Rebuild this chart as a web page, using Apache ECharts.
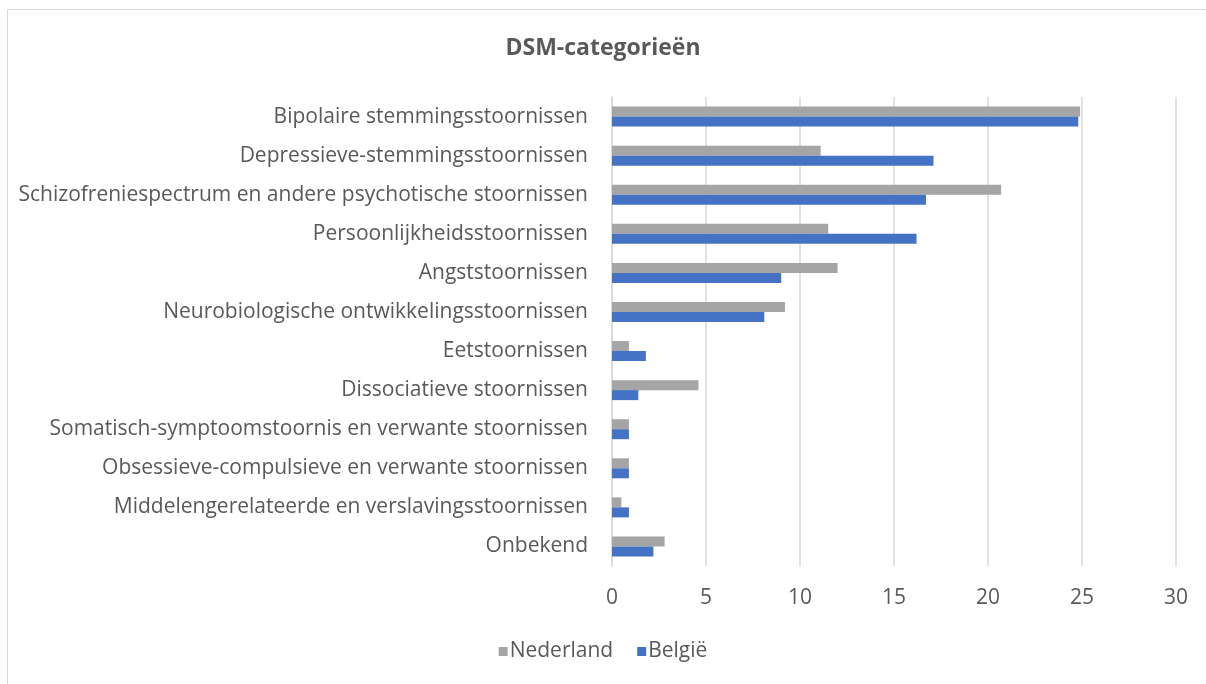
<!DOCTYPE html>
<html>
<head>
<meta charset="utf-8">
<script src="https://cdn.jsdelivr.net/npm/echarts@6/dist/echarts.min.js"></script>
<style>
  html, body { margin: 0; padding: 0; background: #fff; }
  #wrap { position: relative; width: 1206px; height: 684px; overflow: hidden; }
  #frame { position: absolute; left: 7px; top: 9px; width: 1240px; height: 720px; border: 1px solid #d9d9d9; }
  #chart { position: absolute; left: 0; top: 0; width: 1206px; height: 684px; }
</style>
</head>
<body>
<div id="wrap">
  <div id="frame"></div>
  <div id="chart"></div>
</div>
<script>
// categorieën, van boven naar onder
const categories = [
  'Bipolaire stemmingsstoornissen',
  'Depressieve-stemmingsstoornissen',
  'Schizofreniespectrum en andere psychotische stoornissen',
  'Persoonlijkheidsstoornissen',
  'Angststoornissen',
  'Neurobiologische ontwikkelingsstoornissen',
  'Eetstoornissen',
  'Dissociatieve stoornissen',
  'Somatisch-symptoomstoornis en verwante stoornissen',
  'Obsessieve-compulsieve en verwante stoornissen',
  'Middelengerelateerde en verslavingsstoornissen',
  'Onbekend'
]
const nederland = [24.9, 11.1, 20.7, 11.5, 12.0, 9.2, 0.9, 4.6, 0.9, 0.9, 0.5, 2.8]
const belgie = [24.8, 17.1, 16.7, 16.2, 9.0, 8.1, 1.8, 1.4, 0.9, 0.9, 0.9, 2.2]
const xTicks = [0, 5, 10, 15, 20, 25, 30]

const font = 'Open Sans'
const textColor = '#595959'
const gridColor = '#d9d9d9'

const chart = echarts.init(document.getElementById('chart'), null, { renderer: 'canvas' })

chart.setOption({
  animation: false,
  title: {
    text: 'DSM-categorieën',
    left: 'center',
    top: 32,
    textStyle: { fontFamily: font, fontSize: 23, fontWeight: 'bold', color: textColor }
  },
  legend: {
    bottom: 17,
    left: 'center',
    itemWidth: 9,
    itemHeight: 9,
    itemGap: 24,
    icon: 'rect',
    textStyle: { fontFamily: font, fontSize: 21, color: textColor, padding: [0, 0, 0, -3] },
    data: ['Nederland', 'België']
  },
  grid: { left: 612, right: 30, top: 97, bottom: 118, containLabel: false },
  xAxis: {
    type: 'value',
    min: xTicks[0],
    max: xTicks[xTicks.length - 1],
    interval: 5,
    axisLine: { show: false },
    axisTick: { show: false },
    axisLabel: { fontFamily: font, fontSize: 21, color: textColor, margin: 22 },
    splitLine: { lineStyle: { color: gridColor, width: 1.5 } }
  },
  yAxis: {
    type: 'category',
    inverse: true,
    data: categories,
    axisLine: { show: true, lineStyle: { color: gridColor, width: 1.5 } },
    axisTick: { show: false },
    axisLabel: { fontFamily: font, fontSize: 21, color: textColor, margin: 24 }
  },
  series: [
    {
      name: 'Nederland',
      type: 'bar',
      data: nederland,
      barWidth: 10,
      barGap: '0%',
      itemStyle: { color: '#a5a5a5' }
    },
    {
      name: 'België',
      type: 'bar',
      data: belgie,
      barWidth: 10,
      barGap: '0%',
      itemStyle: { color: '#4472c4' }
    }
  ]
})
</script>
</body>
</html>
